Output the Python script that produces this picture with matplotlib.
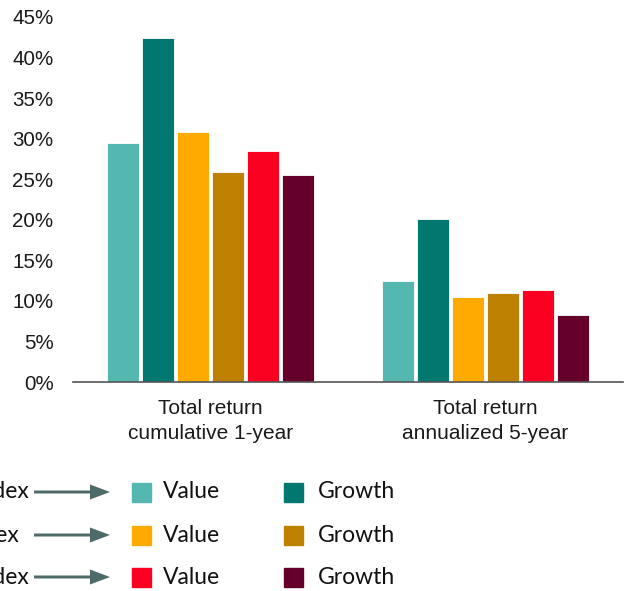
import matplotlib.pyplot as plt
import numpy as np
from matplotlib.patches import Rectangle, FancyArrow

categories = ["Total return\ncumulative 1-year", "Total return\nannualized 5-year"]
large_value = [29.5, 12.4]
large_growth = [42.4, 20.1]
mid_value = [30.8, 10.5]
mid_growth = [25.9, 11.0]
small_value = [28.5, 11.3]
small_growth = [25.5, 8.3]
yticks = [0, 5, 10, 15, 20, 25, 30, 35, 40, 45]

series = [large_value, large_growth, mid_value, mid_growth, small_value, small_growth]
colors = ["#54B7B0", "#00786F", "#FFAA00", "#BE8000", "#FA0021", "#64002A"]
row_labels = ["Index", "Index", "Index"]

W, H = 630, 591
fig = plt.figure(figsize=(W / 100, H / 100), dpi=100)
ax = fig.add_axes([73 / W, 1 - 382 / H, 550 / W, 365 / H])

x = np.arange(len(categories))
step = 0.1276
for j, (vals, c) in enumerate(zip(series, colors)):
    ax.bar(x + (j - 2.5) * step, vals, width=0.116, color=c,
           edgecolor="white", linewidth=0.6)

ax.set_xlim(-0.5, 1.5)
ax.set_ylim(0, 45)
ax.set_yticks(yticks)
ax.set_yticklabels([f"{t}%" for t in yticks], fontsize=14.8,
                   family="Liberation Sans", color="#1a1a1a")
ax.set_xticks(x)
ax.set_xticklabels(categories, fontsize=15, family="Liberation Sans",
                   color="#1a1a1a", linespacing=1.4)
ax.tick_params(axis="y", length=0, pad=14)
ax.tick_params(axis="x", length=0, pad=12)
for s in ["top", "right", "left"]:
    ax.spines[s].set_visible(False)
ax.spines["bottom"].set_color("#555555")
ax.spines["bottom"].set_linewidth(1.2)

# legend drawn in pixel coordinates
leg = fig.add_axes([0, 0, 1, 1], facecolor="none")
leg.set_xlim(0, W)
leg.set_ylim(H, 0)
leg.axis("off")
rows_y = [492, 535, 577]
text_right = [30, 20, 30]
for i, y in enumerate(rows_y):
    leg.text(text_right[i], y, row_labels[i], ha="right", va="center",
             fontsize=16.5, family="Lato", color="#111111")
    leg.add_patch(FancyArrow(34, y, 76, 0, width=3, head_width=15,
                             head_length=20, length_includes_head=True,
                             color="#4F6B69", linewidth=0))
    for k, (sx, tx, name) in enumerate([(132, 163, "Value"), (284, 318, "Growth")]):
        leg.add_patch(Rectangle((sx, y - 9.5), 19, 19, color=colors[2 * i + k]))
        leg.text(tx, y, name, ha="left", va="center", fontsize=16.5,
                 family="Lato", color="#111111")

fig.savefig("out.png", dpi=100)
